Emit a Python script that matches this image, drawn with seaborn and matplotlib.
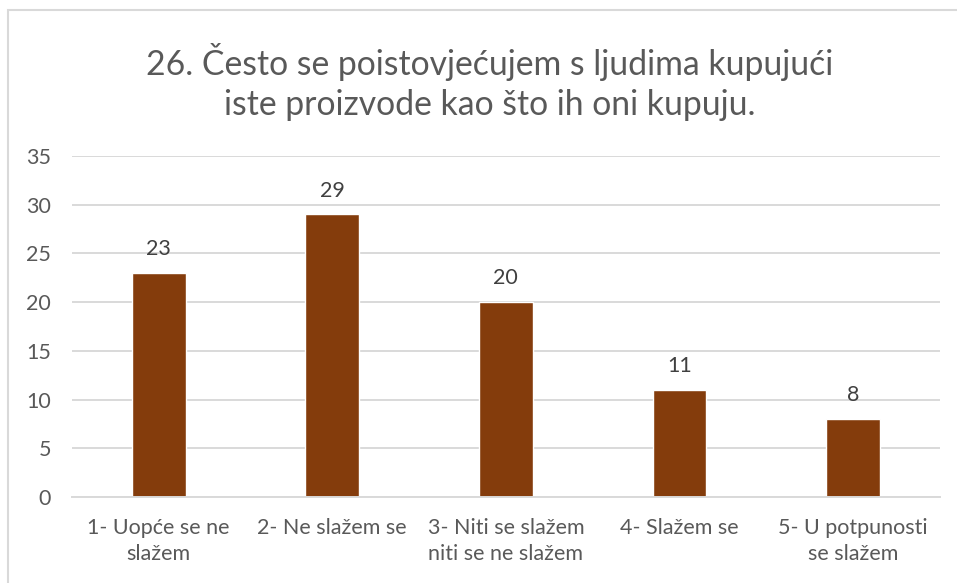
import matplotlib
matplotlib.use("Agg")
import matplotlib.pyplot as plt
import seaborn as sns
import pandas as pd
from matplotlib.patches import Rectangle

# podaci s grafikona
kategorije = ["1- Uopće se ne\nslažem", "2- Ne slažem se", "3- Niti se slažem\nniti se ne slažem",
              "4- Slažem se", "5- U potpunosti\nse slažem"]
odgovori = [23, 29, 20, 11, 8]
naslov = "26. Često se poistovjećujem s ljudima kupujući\niste proizvode kao što ih oni kupuju."

df = pd.DataFrame({"kategorija": kategorije, "broj": odgovori})

sns.set_style("white")
plt.rcParams["font.family"] = ["Lato", "DejaVu Sans"]

fig = plt.figure(figsize=(9.57, 5.83), dpi=100)
ax = fig.add_axes([0.0752, 0.1475, 0.9068, 0.5849])

sns.barplot(data=df, x="kategorija", y="broj", color="#843C0C", saturation=1,
            width=0.31, ax=ax)

ax.set_ylim(0, 35)
ax.set_yticks(range(0, 36, 5))
ax.yaxis.grid(True, color="#D9D9D9", linewidth=1.4)
ax.set_axisbelow(True)
for s in ["top", "right", "left"]:
    ax.spines[s].set_visible(False)
ax.spines["bottom"].set_color("#D9D9D9")
ax.spines["bottom"].set_linewidth(1.4)
ax.tick_params(axis="both", length=0, labelsize=15.5, colors="#595959")
ax.tick_params(axis="y", pad=15)
ax.tick_params(axis="x", pad=15)
for t in ax.get_xticklabels():
    t.set_linespacing(1.4)
ax.set_xlabel("")
ax.set_ylabel("")

for c in ax.containers:
    ax.bar_label(c, padding=10, fontsize=15.5, color="#404040")

fig.text(0.512, 0.86, naslov, ha="center", va="center", fontsize=24.3,
         color="#595959", linespacing=1.3)

fig.patches.append(Rectangle((8 / 957, -0.1), 1.2, 1 - 10 / 583 + 0.1,
                             transform=fig.transFigure, fill=False,
                             edgecolor="#D9D9D9", linewidth=1.5))

fig.savefig("out.png", dpi=100)
